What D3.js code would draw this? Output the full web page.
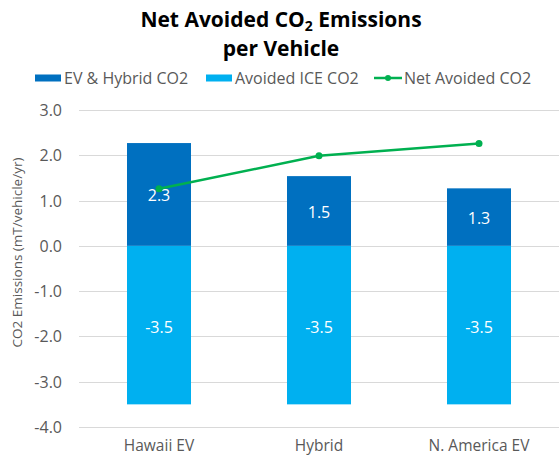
<!DOCTYPE html>
<html>
<head>
<meta charset="utf-8">
<script src="https://cdn.jsdelivr.net/npm/d3@7"></script>
<style>
  body { margin: 0; background: #fff; }
  text { font-family: "Open Sans", "Noto Sans", sans-serif; }
</style>
</head>
<body>
<div id="chart"></div>
<script>
// data
const categories = ["Hawaii EV", "Hybrid", "N. America EV"];
const evHybrid = [2.27, 1.54, 1.27];
const avoidedIce = [-3.5, -3.5, -3.5];
const netAvoided = [1.26, 1.99, 2.26];
const evLabels = ["2.3", "1.5", "1.3"];
const iceLabels = ["-3.5", "-3.5", "-3.5"];
const yTicks = [3, 2, 1, 0, -1, -2, -3, -4];

const width = 559, height = 456;
const plotLeft = 79, plotRight = 559, plotTop = 110, plotBottom = 427;

const svg = d3.select("#chart").append("svg")
    .attr("width", width)
    .attr("height", height);

const x = d3.scaleBand()
    .domain(categories)
    .range([plotLeft, plotRight])
    .paddingInner(0.6)
    .paddingOuter(0.3);

const y = d3.scaleLinear()
    .domain([-4, 3])
    .range([plotBottom, plotTop]);

// gridlines
svg.selectAll(".grid")
    .data(yTicks)
    .enter().append("line")
    .attr("x1", plotLeft)
    .attr("x2", plotRight)
    .attr("y1", d => Math.round(y(d)) + 0.5)
    .attr("y2", d => Math.round(y(d)) + 0.5)
    .style("stroke", "#d9d9d9")
    .style("stroke-width", 1);

// y tick labels
svg.selectAll(".ytick")
    .data(yTicks)
    .enter().append("text")
    .attr("x", 62)
    .attr("y", d => y(d))
    .attr("text-anchor", "end")
    .attr("dominant-baseline", "central")
    .style("font-size", "16px")
    .style("fill", "#595959")
    .text(d => d3.format(".1f")(d).replace("−", "-"));

// bars - avoided ICE
svg.selectAll(".ice")
    .data(categories)
    .enter().append("rect")
    .attr("x", d => x(d))
    .attr("width", x.bandwidth())
    .attr("y", y(0))
    .attr("height", (d, i) => y(avoidedIce[i]) - y(0))
    .style("fill", "#00b0f0");

// bars - EV & hybrid
svg.selectAll(".ev")
    .data(categories)
    .enter().append("rect")
    .attr("x", d => x(d))
    .attr("width", x.bandwidth())
    .attr("y", (d, i) => y(evHybrid[i]))
    .attr("height", (d, i) => y(0) - y(evHybrid[i]))
    .style("fill", "#0070c0");

// data labels
svg.selectAll(".evlab")
    .data(categories)
    .enter().append("text")
    .attr("x", d => x(d) + x.bandwidth() / 2)
    .attr("y", (d, i) => (y(evHybrid[i]) + y(0)) / 2 + 1)
    .attr("text-anchor", "middle")
    .attr("dominant-baseline", "central")
    .style("font-size", "16px")
    .style("fill", "#fff")
    .text((d, i) => evLabels[i]);

svg.selectAll(".icelab")
    .data(categories)
    .enter().append("text")
    .attr("x", d => x(d) + x.bandwidth() / 2)
    .attr("y", (d, i) => (y(avoidedIce[i]) + y(0)) / 2 + 2)
    .attr("text-anchor", "middle")
    .attr("dominant-baseline", "central")
    .style("font-size", "16px")
    .style("fill", "#fff")
    .text((d, i) => iceLabels[i]);

// net line
const line = d3.line()
    .x((d, i) => x(categories[i]) + x.bandwidth() / 2)
    .y(d => y(d));

svg.append("path")
    .datum(netAvoided)
    .attr("fill", "none")
    .attr("stroke", "#00b050")
    .attr("stroke-width", 2.5)
    .attr("d", line);

svg.selectAll(".pt")
    .data(netAvoided)
    .enter().append("circle")
    .attr("cx", (d, i) => x(categories[i]) + x.bandwidth() / 2)
    .attr("cy", d => y(d))
    .attr("r", 3.5)
    .style("fill", "#00b050");

// category labels
svg.selectAll(".xlab")
    .data(categories)
    .enter().append("text")
    .attr("x", d => x(d) + x.bandwidth() / 2)
    .attr("y", 451)
    .attr("text-anchor", "middle")
    .style("font-size", "15.5px")
    .style("fill", "#595959")
    .text(d => d);

// y axis title
svg.append("text")
    .attr("transform", `translate(22,${(plotTop + plotBottom) / 2 - 16}) rotate(-90)`)
    .attr("text-anchor", "middle")
    .style("font-size", "13.5px")
    .style("fill", "#595959")
    .text("CO2 Emissions (mT/vehicle/yr)");

// title
const t1 = svg.append("text")
    .attr("x", 281)
    .attr("y", 27)
    .attr("text-anchor", "middle")
    .style("font-size", "21px")
    .style("font-weight", "bold")
    .style("fill", "#000");
t1.append("tspan").text("Net Avoided CO");
t1.append("tspan").attr("dy", 4).style("font-size", "14px").text("2");
t1.append("tspan").attr("dy", -4).text(" Emissions");

svg.append("text")
    .attr("x", 281)
    .attr("y", 56)
    .attr("text-anchor", "middle")
    .style("font-size", "21px")
    .style("font-weight", "bold")
    .style("fill", "#000")
    .text("per Vehicle");

// legend
const legendItems = [
    { name: "EV & Hybrid CO2", type: "rect", color: "#0070c0", x: 35 },
    { name: "Avoided ICE CO2", type: "rect", color: "#00b0f0", x: 206 },
    { name: "Net Avoided CO2", type: "line", color: "#00b050", x: 374 }
];
const lg = svg.selectAll(".legend")
    .data(legendItems)
    .enter().append("g")
    .attr("transform", d => `translate(${d.x},78)`);

lg.filter(d => d.type === "rect").append("rect")
    .attr("x", 0)
    .attr("y", -3.5)
    .attr("width", 26)
    .attr("height", 7)
    .style("fill", d => d.color);

lg.filter(d => d.type === "line").append("line")
    .attr("x1", 0).attr("x2", 28)
    .attr("y1", 0).attr("y2", 0)
    .style("stroke", d => d.color)
    .style("stroke-width", 2.5);

lg.filter(d => d.type === "line").append("circle")
    .attr("cx", 14).attr("cy", 0).attr("r", 3)
    .style("fill", d => d.color);

lg.append("text")
    .attr("x", d => d.type === "line" ? 30 : 29)
    .attr("y", 0)
    .attr("dominant-baseline", "central")
    .style("font-size", "16px")
    .style("fill", "#595959")
    .text(d => d.name);
</script>
</body>
</html>
